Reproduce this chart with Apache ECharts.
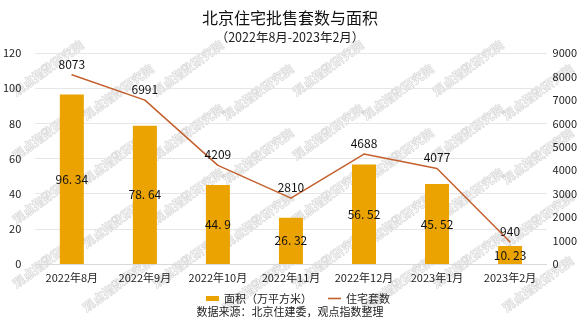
<!DOCTYPE html>
<html>
<head>
<meta charset="utf-8">
<script src="https://cdn.jsdelivr.net/npm/echarts@6/dist/echarts.min.js"></script>
<style>
  html, body { margin: 0; padding: 0; background: #fff; }
  #chart { width: 580px; height: 326px; }
</style>
</head>
<body>
<div id="chart"></div>
<script>
// 北京住宅批售：月份、面积（万平方米）、住宅套数
const months = ['2022年8月', '2022年9月', '2022年10月', '2022年11月', '2022年12月', '2023年1月', '2023年2月'];
const areaValues = [96.34, 78.64, 44.9, 26.32, 56.52, 45.52, 10.23];
const unitValues = [8073, 6991, 4209, 2810, 4688, 4077, 940];
const leftTicks = { min: 0, max: 120, interval: 20 };
const rightTicks = { min: 0, max: 9000, interval: 1000 };

const FONT = '"Noto Sans CJK SC", "Noto Sans", sans-serif';
const BAR_COLOR = '#EAA300';
const LINE_COLOR = '#C4602D';

// 背景水印
const marks = [];
for (let c = 0; c < 8; c++) {
  for (let r = 0; r < 4; r++) {
    marks.push({
      type: 'text',
      x: 48 + c * 70,
      y: 68 + r * 64 + (c % 2) * 24,
      rotation: Math.PI * 0.2,
      z: -1,
      silent: true,
      style: {
        text: '观点指数研究院',
        fontSize: 12,
        fontWeight: 'bold',
        fontFamily: FONT,
        fill: 'rgba(255,255,255,0)',
        stroke: 'rgba(170,170,170,0.45)',
        lineWidth: 0.7,
        align: 'center',
        verticalAlign: 'middle'
      }
    });
  }
}

const legendText = { fontSize: 11, color: '#222', fontFamily: FONT };

const chart = echarts.init(document.getElementById('chart'));
chart.setOption({
  backgroundColor: '#fff',
  animation: false,
  textStyle: { fontFamily: FONT },
  title: {
    text: '北京住宅批售套数与面积',
    subtext: '（2022年8月-2023年2月）',
    left: 'center',
    top: 5,
    itemGap: 5,
    textStyle: { fontSize: 16, fontWeight: 'normal', color: '#111', fontFamily: FONT },
    subtextStyle: { fontSize: 12.5, color: '#222', fontFamily: FONT }
  },
  graphic: marks.concat([{
    type: 'text',
    left: 'center',
    top: 306,
    style: { text: '数据来源：北京住建委，观点指数整理', fontSize: 11, fill: '#222', fontFamily: FONT }
  }]),
  legend: [
    {
      top: 288,
      left: 201,
      itemWidth: 13,
      itemHeight: 5,
      textStyle: legendText,
      data: [{ name: '面积（万平方米）', icon: 'rect' }]
    },
    {
      top: 288,
      left: 323,
      itemWidth: 13,
      itemHeight: 1.6,
      textStyle: legendText,
      data: [{ name: '住宅套数', icon: 'rect' }]
    }
  ],
  grid: { left: 28, right: 32, top: 53, bottom: 62, containLabel: false },
  xAxis: {
    type: 'category',
    data: months,
    axisLine: { lineStyle: { color: '#d9d9d9' } },
    axisTick: { show: false },
    axisLabel: { fontSize: 11, color: '#222', margin: 8, interval: 0 }
  },
  yAxis: [
    {
      type: 'value',
      min: leftTicks.min, max: leftTicks.max, interval: leftTicks.interval,
      axisLine: { show: false },
      axisTick: { show: false },
      axisLabel: { fontSize: 11, color: '#222', margin: 14 },
      splitLine: { lineStyle: { color: '#e6e6e6' } }
    },
    {
      type: 'value',
      min: rightTicks.min, max: rightTicks.max, interval: rightTicks.interval,
      axisLine: { show: false },
      axisTick: { show: false },
      axisLabel: { fontSize: 11, color: '#222', margin: 6, formatter: v => String(v) },
      splitLine: { show: false }
    }
  ],
  series: [
    {
      name: '面积（万平方米）',
      type: 'bar',
      data: areaValues,
      barWidth: 24,
      itemStyle: { color: BAR_COLOR },
      label: {
        show: true,
        position: 'inside',
        color: '#111',
        fontSize: 12,
        formatter: p => String(p.value).replace('.', '. ')
      }
    },
    {
      name: '住宅套数',
      type: 'line',
      yAxisIndex: 1,
      data: unitValues,
      symbol: 'circle',
      symbolSize: 1,
      showSymbol: true,
      lineStyle: { color: LINE_COLOR, width: 1.5 },
      itemStyle: { color: LINE_COLOR },
      label: { show: true, position: 'top', color: '#111', fontSize: 12, distance: 4 }
    }
  ]
});
</script>
</body>
</html>
